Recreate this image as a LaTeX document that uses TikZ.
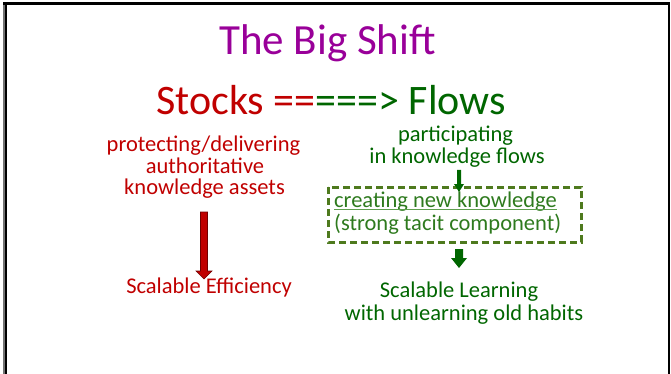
\documentclass[tikz,border=0pt]{standalone}
\usepackage{fontspec}
\setmainfont{Carlito}
\definecolor{ttlpurple}{HTML}{990099}
\definecolor{stockred}{HTML}{C00000}
\definecolor{flowgreen}{HTML}{006600}
\definecolor{boxgreen}{HTML}{4E7A1E}
\definecolor{boxtext}{HTML}{2E7A1E}
\definecolor{ulgreen}{HTML}{5E9E4E}
\definecolor{arrred}{HTML}{C00000}
\definecolor{arrredline}{HTML}{700000}
\begin{document}
\begin{tikzpicture}[x=1pt,y=-1pt,
  txt/.style={inner sep=0pt, anchor=base},
  ttl/.style={txt, font=\fontsize{43}{45}\selectfont},
  big/.style={txt, font=\fontsize{42}{44}\selectfont},
  mid/.style={txt, font=\fontsize{22.5}{24}\selectfont, text height=13pt, text depth=3pt},
  redtxt/.style={mid, text=stockred},
  grntxt/.style={mid, text=flowgreen},
  boxtxt/.style={mid, text=boxtext, anchor=base west}]
\useasboundingbox (0,0) rectangle (671,374);
% frame
\draw[line width=2pt, black!55] (4,5) -- (4,374);
\draw[line width=2pt] (6,5) -- (6,374);
\draw[line width=3pt] (3,3.5) -- (669.5,3.5);
\draw[line width=1.5pt] (669,3.5) -- (669,374);
% title
\node[ttl, text=ttlpurple] (title) at (327.5,55) {The Big Shift};
\node[big] (shift) at (331,115) {\textcolor{stockred}{Stocks ==}\textcolor{flowgreen}{===> Flows}};
% left column
\node[redtxt] (s1) at (203.5,152) {protecting/delivering};
\node[redtxt] (s2) at (205,173) {authoritative};
\node[redtxt] (s3) at (204.5,194) {knowledge assets};
\node[redtxt] (eff) at (209,293) {Scalable Efficiency};
% right column
\node[grntxt] (p1) at (455.5,142) {participating};
\node[grntxt] (p2) at (457,163.5) {in knowledge flows};
\draw[boxgreen, line width=3pt, dash pattern=on 7pt off 4pt] (328,187) rectangle (581,242);
\node[boxtxt] (create) at (334,207) {creating new knowledge};
\draw[ulgreen, line width=1.3pt] ([yshift=-2.5pt]create.base west) -- ([yshift=-2.5pt]create.base east);
\node[boxtxt] (tacit) at (334,230) {(strong tacit component)};
\node[grntxt] (l1) at (459,297) {Scalable Learning};
\node[grntxt] (l2) at (464,320) {with unlearning old habits};
% arrows
\fill[arrred, draw=arrredline, line width=0.6pt]
  (200.5,212) -- (207.5,212) -- (207.5,271) -- (212,271) -- (204,279) -- (196,271) -- (200.5,271) -- cycle;
\fill[flowgreen] (457,170) -- (461,170) -- (461,184) -- (464,184) -- (459,192) -- (454,184) -- (457,184) -- cycle;
\fill[flowgreen] (455,249) -- (463,249) -- (463,258) -- (467,258) -- (459,268) -- (451,258) -- (455,258) -- cycle;
\end{tikzpicture}
\end{document}
